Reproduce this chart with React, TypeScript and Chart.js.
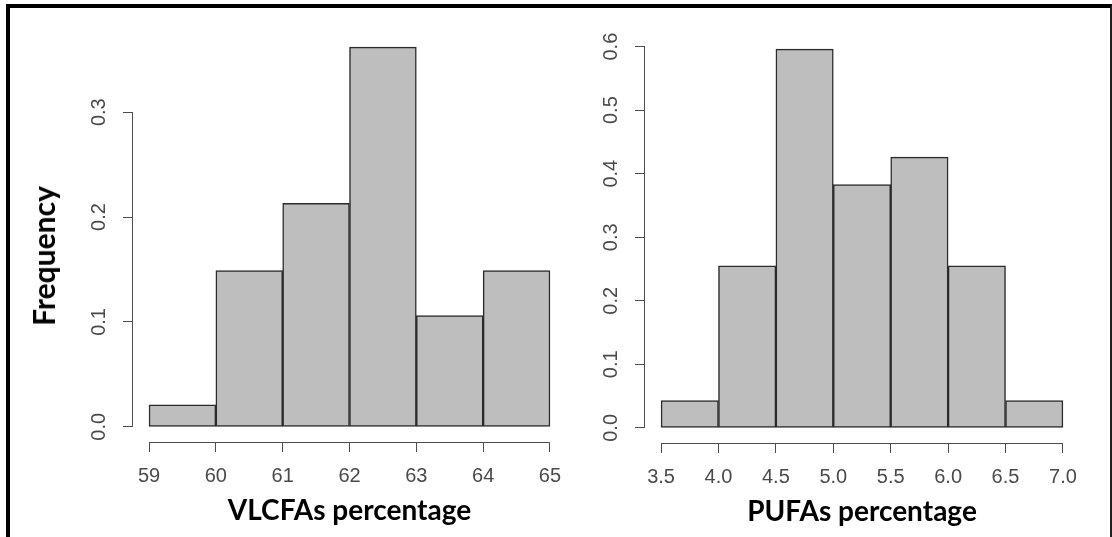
import { useEffect, useRef } from "react";
import { Chart, registerables } from "chart.js";

Chart.register(...registerables);

// ---- data ----
const vlcfaBreaks = [59, 60, 61, 62, 63, 64, 65];
const vlcfaDensity = [0.021, 0.149, 0.213, 0.362, 0.106, 0.149];
const vlcfaYTicks = [0, 0.1, 0.2, 0.3];
const vlcfaTitle = "VLCFAs percentage";

const pufaBreaks = [3.5, 4.0, 4.5, 5.0, 5.5, 6.0, 6.5, 7.0];
const pufaDensity = [0.043, 0.255, 0.596, 0.383, 0.426, 0.255, 0.043];
const pufaYTicks = [0, 0.1, 0.2, 0.3, 0.4, 0.5, 0.6];
const pufaTitle = "PUFAs percentage";

const yTitle = "Frequency";

// ---- layout / style ----
const W = 1112;
const H = 537;
const AXIS_COLOR = "#4d4d4d";
const TICK_COLOR = "#4a4a4a";
const TICK_FONT = { family: "'Liberation Sans', Arial, sans-serif", size: 20 };
const TITLE_FONT = { family: "Lato, 'Open Sans', sans-serif", size: 28, weight: "bold" as const };
const Y_AXIS_W = 60;
const X_AXIS_H = 86;

const rAxisLines = {
  id: "rAxisLines",
  afterDraw(chart: any) {
    const { ctx, chartArea } = chart;
    const x = chart.scales.x;
    const y = chart.scales.y;
    const xt = x.ticks;
    const yt = y.ticks;
    ctx.save();
    ctx.strokeStyle = AXIS_COLOR;
    ctx.lineWidth = 1;
    ctx.beginPath();
    const by = Math.round(chartArea.bottom) + 0.5;
    ctx.moveTo(x.getPixelForValue(xt[0].value), by);
    ctx.lineTo(x.getPixelForValue(xt[xt.length - 1].value), by);
    const lx = Math.round(chartArea.left) - 0.5;
    ctx.moveTo(lx, y.getPixelForValue(yt[0].value));
    ctx.lineTo(lx, y.getPixelForValue(yt[yt.length - 1].value));
    ctx.stroke();
    ctx.restore();
  },
};

type Area = { left: number; right: number; top: number; bottom: number };

function makeConfig(
  breaks: number[],
  density: number[],
  yTicks: number[],
  xTitle: string,
  area: Area,
  decimals: number
): any {
  const centers = density.map((_, i) => (breaks[i] + breaks[i + 1]) / 2);
  const first = breaks[0];
  const last = breaks[breaks.length - 1];
  const xr = last - first;
  const ymax = Math.max(...density);
  const grid = {
    offset: false,
    drawOnChartArea: false,
    drawTicks: true,
    tickLength: 10,
    color: AXIS_COLOR,
    lineWidth: 1,
  };
  return {
    type: "bar",
    data: {
      datasets: [
        {
          data: centers.map((c, i) => ({ x: c, y: density[i] })),
          backgroundColor: "#bebebe",
          borderColor: "#2b2b2b",
          borderWidth: 1.5,
          borderSkipped: false,
          barPercentage: 1,
          categoryPercentage: 1,
        },
      ],
    },
    options: {
      responsive: false,
      animation: false,
      events: [],
      layout: {
        padding: {
          left: area.left - Y_AXIS_W,
          right: W - area.right,
          top: area.top,
          bottom: H - area.bottom - X_AXIS_H,
        },
      },
      plugins: { legend: { display: false }, tooltip: { enabled: false } },
      scales: {
        x: {
          type: "linear",
          min: first - 0.04 * xr,
          max: last + 0.04 * xr,
          offset: false,
          bounds: "data",
          afterBuildTicks: (s: any) => {
            s.ticks = breaks.map((v) => ({ value: v }));
          },
          afterFit: (s: any) => {
            s.height = X_AXIS_H;
          },
          grid,
          border: { display: false },
          ticks: {
            autoSkip: false,
            minRotation: 0,
            maxRotation: 0,
            padding: 12,
            color: TICK_COLOR,
            font: TICK_FONT,
            callback: (v: any) => Number(v).toFixed(decimals),
          },
          title: {
            display: true,
            text: xTitle,
            color: "#000",
            font: TITLE_FONT,
            padding: { top: 0, bottom: 0 },
          },
        },
        y: {
          type: "linear",
          min: -0.04 * ymax,
          max: 1.04 * ymax,
          beginAtZero: false,
          bounds: "data",
          afterBuildTicks: (s: any) => {
            s.ticks = yTicks.map((v) => ({ value: v }));
          },
          afterFit: (s: any) => {
            s.width = Y_AXIS_W;
          },
          grid,
          border: { display: false },
          ticks: {
            autoSkip: false,
            minRotation: 90,
            maxRotation: 90,
            crossAlign: "center",
            padding: 10,
            color: TICK_COLOR,
            font: TICK_FONT,
            callback: (v: any) => Number(v).toFixed(1),
          },
        },
      },
    },
    plugins: [rAxisLines],
  };
}

export default function App() {
  const leftRef = useRef<HTMLCanvasElement | null>(null);
  const rightRef = useRef<HTMLCanvasElement | null>(null);

  useEffect(() => {
    const c1 = new Chart(
      leftRef.current as HTMLCanvasElement,
      makeConfig(vlcfaBreaks, vlcfaDensity, vlcfaYTicks, vlcfaTitle, { left: 133, right: 566, top: 32, bottom: 442 }, 0)
    );
    const c2 = new Chart(
      rightRef.current as HTMLCanvasElement,
      makeConfig(pufaBreaks, pufaDensity, pufaYTicks, pufaTitle, { left: 645, right: 1079, top: 34, bottom: 443 }, 1)
    );
    return () => {
      c1.destroy();
      c2.destroy();
    };
  }, []);

  return (
    <div style={{ position: "absolute", left: 0, top: 0, width: W, height: H, background: "#fff", overflow: "hidden" }}>
      <div
        style={{
          position: "absolute",
          left: 6,
          top: 4,
          width: 1106,
          height: 533,
          boxSizing: "border-box",
          borderTop: "4px solid #000",
          borderLeft: "4px solid #000",
          borderRight: "2px solid #222",
        }}
      />
      <canvas ref={leftRef} width={W} height={H} style={{ position: "absolute", left: 0, top: 0, width: W, height: H }} />
      <canvas ref={rightRef} width={W} height={H} style={{ position: "absolute", left: 0, top: 0, width: W, height: H }} />
      <div
        style={{
          position: "absolute",
          left: 43,
          top: 256,
          transform: "translate(-50%, -50%) rotate(-90deg)",
          fontFamily: "Lato, 'Open Sans', sans-serif",
          fontWeight: "bold",
          fontSize: 30,
          whiteSpace: "nowrap",
          color: "#000",
          lineHeight: 1,
        }}
      >
        {yTitle}
      </div>
    </div>
  );
}
